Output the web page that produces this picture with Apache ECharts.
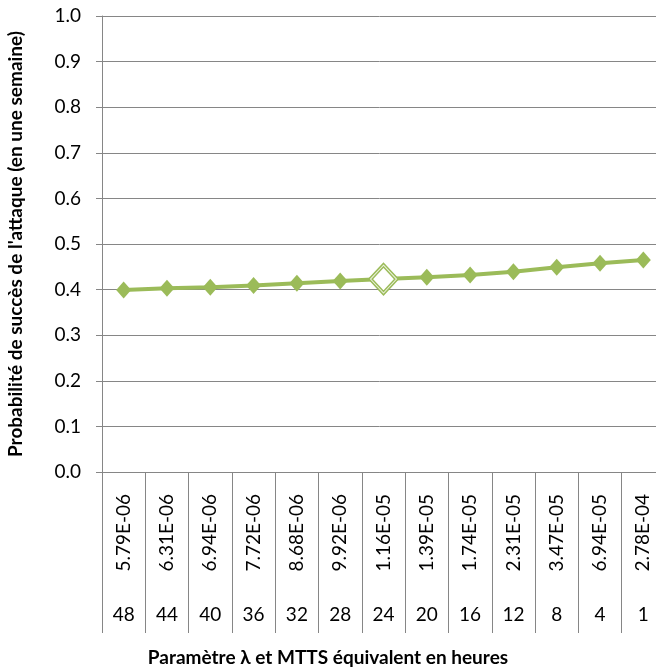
<!DOCTYPE html>
<html lang="fr">
<head>
  <meta charset="UTF-8">
  <script src="https://cdn.jsdelivr.net/npm/echarts@6/dist/echarts.min.js"></script>
  <title>Probabilité de succès</title>
</head>
<body>
  <div id="chart"></div>
</body>
<style>
  html,body{
    padding: 0;
    margin: 0;
    width: 656px;
    height: 670px;
    background: #fff;
  }
  #chart {
    width: 656px;
    height: 670px;
  }
</style>
</html>
<script>
// lambda values (top row of the x axis) and MTTS in hours (bottom row)
const lambdas = ['5.79E-06', '6.31E-06', '6.94E-06', '7.72E-06', '8.68E-06', '9.92E-06',
  '1.16E-05', '1.39E-05', '1.74E-05', '2.31E-05', '3.47E-05', '6.94E-05', '2.78E-04']
const mtts = ['48', '44', '40', '36', '32', '28', '24', '20', '16', '12', '8', '4', '1']
const probas = [0.399, 0.403, 0.405, 0.409, 0.414, 0.419, 0.423, 0.427, 0.432, 0.439, 0.449, 0.458, 0.465]
const highlightIdx = 6

const green = '#9BBB59'
const grey = '#868686'
const font = 'Lato, "Open Sans", sans-serif'

const seriesData = probas.map((v, i) => {
  if (i !== highlightIdx) return v
  return {
    value: v,
    symbolSize: [26, 28],
    itemStyle: { color: '#fff', borderColor: green, borderWidth: 4 }
  }
})

const option = {
  animation: false,
  title: {
    text: 'Paramètre λ et MTTS équivalent en heures',
    left: 323,
    top: 643,
    textAlign: 'center',
    textStyle: { fontFamily: font, fontSize: 19, fontWeight: 'bold', color: '#000' }
  },
  grid: { left: 102, right: -9, top: 16, bottom: 198, outerBoundsMode: 'none', containLabel: false },
  xAxis: [
    {
      type: 'category',
      data: lambdas,
      boundaryGap: true,
      axisLine: { show: true, onZero: false, lineStyle: { color: grey, width: 1 } },
      axisTick: { show: true, alignWithLabel: false, length: 161, interval: 0, lineStyle: { color: grey } },
      axisLabel: {
        interval: 0, rotate: 90, margin: 22,
        fontFamily: font, fontSize: 19, color: '#000'
      }
    },
    {
      type: 'category',
      data: mtts,
      position: 'bottom',
      boundaryGap: true,
      axisLine: { show: false },
      axisTick: { show: false },
      axisLabel: {
        interval: 0, margin: 133,
        fontFamily: font, fontSize: 19, color: '#000'
      }
    }
  ],
  yAxis: {
    type: 'value',
    min: 0,
    max: 1,
    interval: 0.1,
    name: "Probabilité de succès de l'attaque (en une semaine)",
    nameLocation: 'middle',
    nameGap: 77,
    nameTextStyle: { fontFamily: font, fontSize: 19, fontWeight: 'bold', color: '#000' },
    axisLine: { show: true, lineStyle: { color: grey } },
    axisTick: { show: true, length: 6, lineStyle: { color: grey } },
    splitLine: { lineStyle: { color: grey } },
    axisLabel: {
      margin: 21, fontFamily: font, fontSize: 19, color: '#000',
      formatter: v => v.toFixed(1)
    }
  },
  series: [
    {
      type: 'line',
      data: seriesData,
      symbol: 'diamond',
      symbolSize: [15, 17],
      itemStyle: { color: green },
      lineStyle: { color: green, width: 4 },
      z: 3
    },
    {
      // thin white line inside the outline of the highlighted diamond
      type: 'scatter',
      data: [[highlightIdx, probas[highlightIdx]]],
      symbol: 'diamond',
      symbolSize: [26, 28],
      itemStyle: { color: 'none', borderColor: '#fff', borderWidth: 1 },
      z: 4
    }
  ]
}

const chart = echarts.init(document.getElementById('chart'))
chart.setOption(option)
</script>
